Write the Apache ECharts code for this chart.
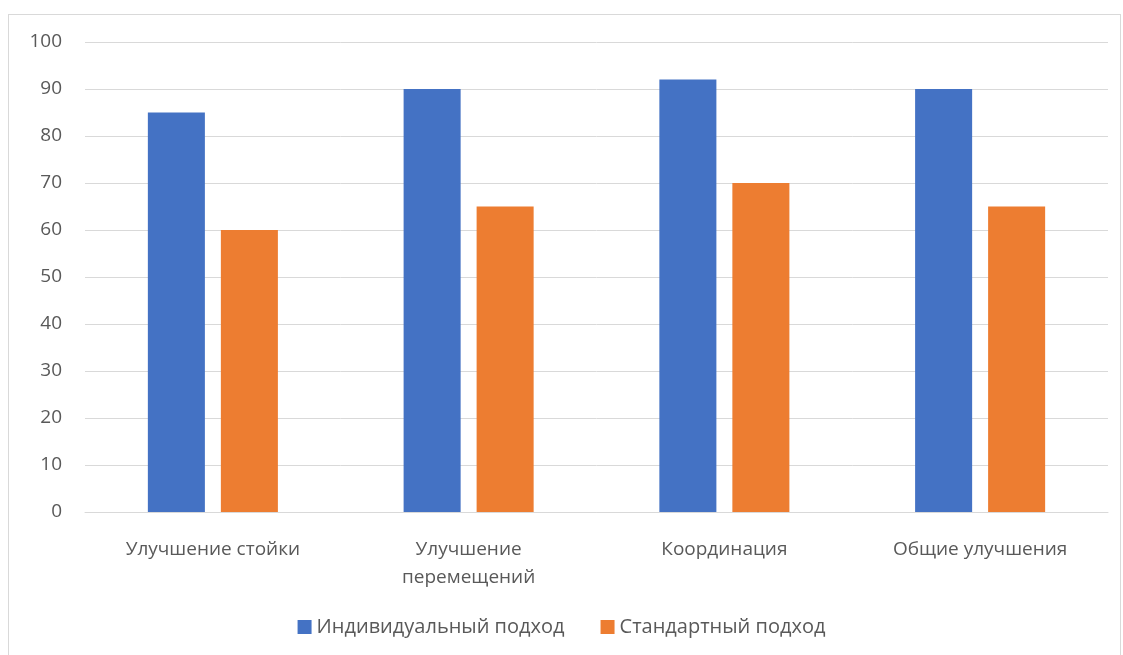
<!DOCTYPE html>
<html>
<head>
<meta charset="utf-8">
<script src="https://cdn.jsdelivr.net/npm/echarts@6/dist/echarts.min.js"></script>
<style>
html,body{margin:0;padding:0;background:#fff;}
#frame{position:absolute;left:8px;top:14px;width:1113px;height:645px;border:1px solid #d9d9d9;box-sizing:border-box;}
#chart{position:absolute;left:0;top:0;width:1123px;height:655px;}
</style>
</head>
<body>
<div id="frame"></div>
<div id="chart"></div>
<script>
const categories = ['Улучшение стойки', 'Улучшение перемещений', 'Координация', 'Общие улучшения'];
const individualValues = [85, 90, 92, 90];
const standardValues = [60, 65, 70, 65];
const seriesNames = ['Индивидуальный подход', 'Стандартный подход'];

const chart = echarts.init(document.getElementById('chart'));
const font = '"Open Sans", "Noto Sans", sans-serif';
chart.setOption({
  animation: false,
  textStyle: { fontFamily: font },
  grid: { left: 85, right: 15, top: 42, bottom: 143, containLabel: false },
  legend: {
    bottom: 13,
    left: 'center',
    itemWidth: 14,
    itemHeight: 14,
    itemGap: 36,
    icon: 'rect',
    textStyle: { fontSize: 20, color: '#595959', fontFamily: font },
    data: seriesNames
  },
  xAxis: {
    type: 'category',
    data: categories,
    axisLine: { lineStyle: { color: '#d9d9d9', width: 1 } },
    axisTick: { show: false },
    axisLabel: {
      interval: 0,
      color: '#595959', fontSize: 19, margin: 24, lineHeight: 28, fontFamily: font,
      formatter: v => v.length > 18 ? v.replace(' ', '\n') : v
    }
  },
  yAxis: {
    type: 'value',
    min: 0, max: 100, interval: 10,
    axisLine: { show: false },
    axisTick: { show: false },
    axisLabel: { color: '#595959', fontSize: 19, margin: 23, fontFamily: font },
    splitLine: { lineStyle: { color: '#d9d9d9', width: 1 } }
  },
  series: [
    { name: seriesNames[0], type: 'bar', data: individualValues, barWidth: '22.3%', barGap: '28%', itemStyle: { color: '#4472c4' } },
    { name: seriesNames[1], type: 'bar', data: standardValues, barWidth: '22.3%', barGap: '28%', itemStyle: { color: '#ed7d31' } }
  ]
});
</script>
</body>
</html>
